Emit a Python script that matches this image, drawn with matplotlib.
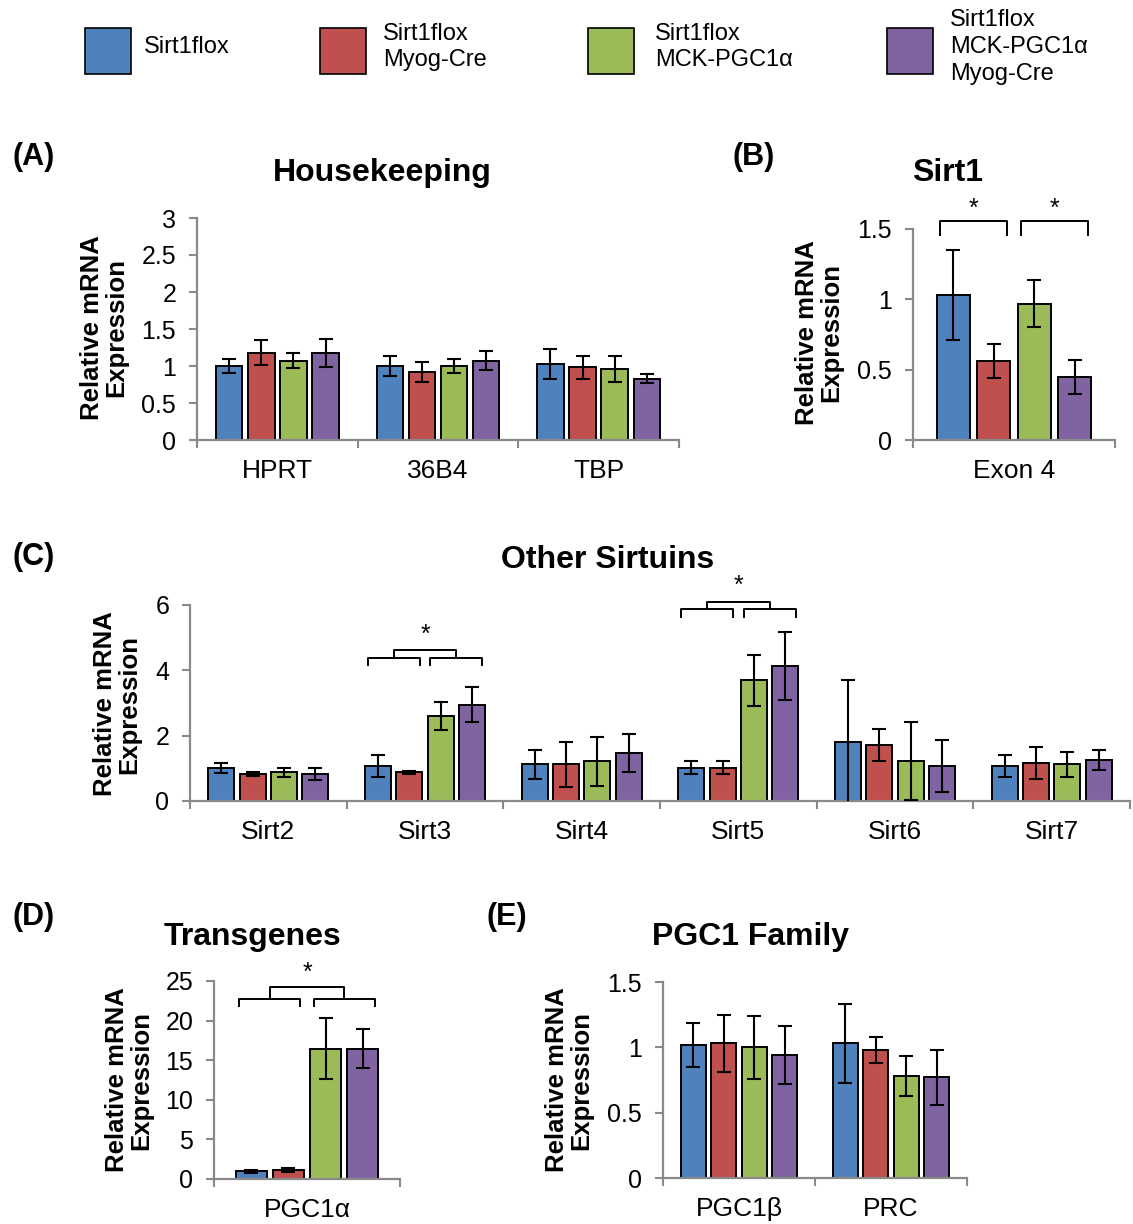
import numpy as np
import matplotlib
matplotlib.use('Agg')
from matplotlib import pyplot as plt
from matplotlib.patches import Rectangle

plt.rcParams['font.family'] = ['Liberation Sans', 'DejaVu Sans']

W, H = 1133, 1224

groups = ['Sirt1flox', 'Sirt1flox\nMyog-Cre', 'Sirt1flox\nMCK-PGC1\u03b1', 'Sirt1flox\nMCK-PGC1\u03b1\nMyog-Cre']
colors = ['#4F81BD', '#C0504D', '#9BBB59', '#8064A2']

# (A) housekeeping, rows = genotype
hk_genes = ['HPRT', '36B4', 'TBP']
hk_mean = [[1.00, 1.00, 1.03],
           [1.18, 0.92, 0.98],
           [1.07, 1.00, 0.96],
           [1.18, 1.07, 0.83]]
hk_err = [[0.09, 0.13, 0.20],
          [0.17, 0.13, 0.16],
          [0.10, 0.09, 0.17],
          [0.19, 0.13, 0.06]]

# (B) Sirt1
s1_genes = ['Exon 4']
s1_mean = [[1.03], [0.56], [0.97], [0.45]]
s1_err = [[0.32], [0.12], [0.17], [0.12]]

# (C) other sirtuins
sirt_genes = ['Sirt2', 'Sirt3', 'Sirt4', 'Sirt5', 'Sirt6', 'Sirt7']
sirt_mean = [[1.02, 1.07, 1.12, 1.02, 1.82, 1.07],
             [0.83, 0.88, 1.12, 1.02, 1.72, 1.17],
             [0.88, 2.60, 1.21, 3.69, 1.22, 1.12],
             [0.83, 2.95, 1.47, 4.13, 1.07, 1.26]]
sirt_err = [[0.15, 0.35, 0.44, 0.20, 1.87, 0.35],
            [0.06, 0.05, 0.69, 0.19, 0.49, 0.49],
            [0.14, 0.44, 0.75, 0.79, 1.19, 0.39],
            [0.19, 0.54, 0.59, 1.04, 0.80, 0.30]]

# (D) transgenes
tg_genes = ['PGC1\u03b1']
tg_mean = [[0.97], [1.18], [16.46], [16.46]]
tg_err = [[0.20], [0.26], [3.87], [2.44]]

# (E) PGC1 family
pgc_genes = ['PGC1\u03b2', 'PRC']
pgc_mean = [[1.02, 1.03], [1.03, 0.98], [1.00, 0.78], [0.94, 0.77]]
pgc_err = [[0.17, 0.30], [0.22, 0.10], [0.24, 0.15], [0.22, 0.21]]

STEP = 0.2
BW = 0.165
GRAY = '#898989'


def fx(x):
    return x / W


def fy(y):
    return 1 - y / H


def make_axes(x0, y0, x1, y1):
    return fig.add_axes([fx(x0), fy(y1), (x1 - x0) / W, (y1 - y0) / H])


def draw_panel(ax, genes, means, errs, ymax, yticks):
    n = len(genes)
    x = np.arange(n)
    for k in range(4):
        pos = x + (k - 1.5) * STEP
        ax.bar(pos, means[k], BW, color=colors[k], edgecolor='black', linewidth=1.4, zorder=2)
        ax.errorbar(pos, means[k], yerr=errs[k], fmt='none', ecolor='black',
                    elinewidth=1.5, capsize=5, capthick=1.5, zorder=3)
    ax.set_xlim(-0.5, n - 0.5)
    ax.set_ylim(0, ymax)
    ax.set_yticks(yticks)
    ax.set_yticklabels(['%g' % v for v in yticks])
    ax.set_xticks(x)
    ax.set_xticklabels(genes)
    ax.set_xticks(np.arange(n + 1) - 0.5, minor=True)
    ax.tick_params(axis='x', which='major', length=0, pad=14, labelsize=19)
    ax.tick_params(axis='x', which='minor', length=6, width=1.5, color=GRAY, direction='out')
    ax.tick_params(axis='y', length=6, width=1.5, color=GRAY, direction='out', pad=9, labelsize=18)
    for s in ['top', 'right']:
        ax.spines[s].set_visible(False)
    for s in ['left', 'bottom']:
        ax.spines[s].set_color(GRAY)
        ax.spines[s].set_linewidth(1.6)
    ax.set_facecolor('none')


def bar_x(i, k):
    return i + (k - 1.5) * STEP


def bracket(ax, x0, x1, y, drop):
    ax.plot([x0, x0, x1, x1], [y - drop, y, y, y - drop], color='black', lw=1.4, clip_on=False, zorder=4)


def star(ax, x, y):
    ax.text(x, y, '*', ha='center', va='center', fontsize=18, clip_on=False)


def double_bracket(ax, i, y_low, drop, y_up, y_star):
    d = 0.065
    l0, l1 = bar_x(i, 0) - d, bar_x(i, 1) + d
    r0, r1 = bar_x(i, 2) - d, bar_x(i, 3) + d
    bracket(ax, l0, l1, y_low, drop)
    bracket(ax, r0, r1, y_low, drop)
    lm, rm = (l0 + l1) / 2, (r0 + r1) / 2
    bracket(ax, lm, rm, y_up, y_up - y_low)
    star(ax, (lm + rm) / 2, y_star)


def ylab(x, y):
    fig.text(fx(x), fy(y), 'Relative mRNA\nExpression', rotation=90, ha='center', va='center',
             fontsize=18.5, fontweight='bold', linespacing=1.05)


def title(x, y, s):
    fig.text(fx(x), fy(y), s, ha='center', va='center', fontsize=23, fontweight='bold')


def letter(x, y, s):
    fig.text(fx(x), fy(y), s, ha='left', va='center', fontsize=22, fontweight='bold')


fig = plt.figure(figsize=(W / 100, H / 100), dpi=100)

# legend
leg_x = [85, 320, 588, 887]
leg_tx = [144, 383, 655, 950]
for k in range(4):
    fig.add_artist(Rectangle((fx(leg_x[k]), fy(74)), 46 / W, 46 / H, transform=fig.transFigure,
                             facecolor=colors[k], edgecolor='black', linewidth=1.2))
    fig.text(fx(leg_tx[k]), fy(47), groups[k], ha='left', va='center', fontsize=17, linespacing=1.27)

# (A)
axA = make_axes(197, 218, 679, 440)
draw_panel(axA, hk_genes, hk_mean, hk_err, 3, [0, 0.5, 1, 1.5, 2, 2.5, 3])
letter(12, 157, '(A)')
title(382, 173, 'Housekeeping')
ylab(104, 328)

# (B)
axB = make_axes(913, 229, 1115, 440)
draw_panel(axB, s1_genes, s1_mean, s1_err, 1.5, [0, 0.5, 1, 1.5])
d = 0.065
bracket(axB, bar_x(0, 0) - d, bar_x(0, 1) + d, 1.56, 0.105)
bracket(axB, bar_x(0, 2) - d, bar_x(0, 3) + d, 1.56, 0.105)
star(axB, (bar_x(0, 0) + bar_x(0, 1)) / 2, 1.64)
star(axB, (bar_x(0, 2) + bar_x(0, 3)) / 2, 1.64)
letter(733, 157, '(B)')
title(948, 173, 'Sirt1')
ylab(819, 333)

# (C)
axC = make_axes(190, 605, 1130, 801)
draw_panel(axC, sirt_genes, sirt_mean, sirt_err, 6, [0, 2, 4, 6])
double_bracket(axC, 1, 4.39, 0.23, 4.62, 5.1)
double_bracket(axC, 3, 5.87, 0.23, 6.10, 6.58)
letter(12, 557, '(C)')
title(608, 560, 'Other Sirtuins')
ylab(117, 704)

# (D)
axD = make_axes(214, 981, 400, 1179)
draw_panel(axD, tg_genes, tg_mean, tg_err, 25, [0, 5, 10, 15, 20, 25])
double_bracket(axD, 0, 22.7, 0.9, 24.2, 26.0)
letter(12, 917, '(D)')
title(253, 937, 'Transgenes')
ylab(129, 1080)

# (E)
axE = make_axes(663, 982, 967, 1178)
draw_panel(axE, pgc_genes, pgc_mean, pgc_err, 1.5, [0, 0.5, 1, 1.5])
letter(487, 917, '(E)')
title(751, 937, 'PGC1 Family')
ylab(569, 1080)

fig.savefig('out.png', dpi=100)
